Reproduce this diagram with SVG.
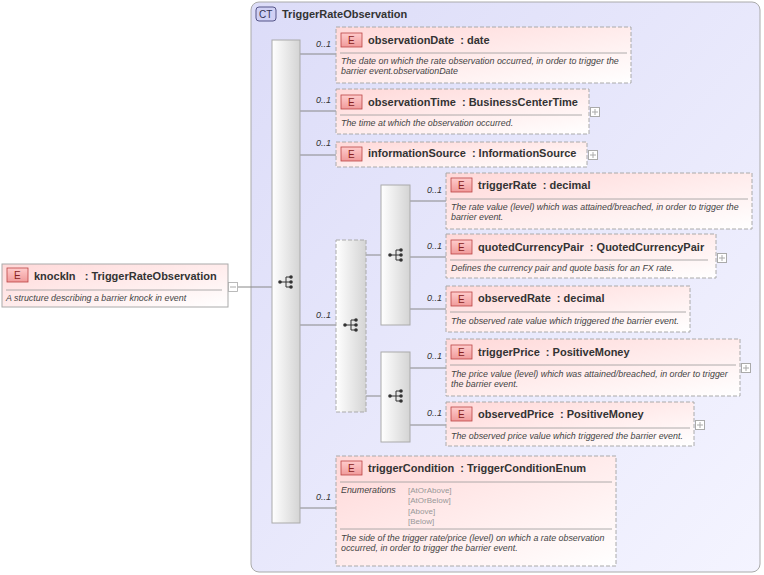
<svg xmlns="http://www.w3.org/2000/svg" width="764" height="575" viewBox="0 0 764 575">
<style>
text{font-family:"Liberation Sans",Arial,sans-serif;white-space:pre;}
.t{font-size:11px;font-weight:bold;fill:#333;}
.d{font-size:8.9px;font-style:italic;fill:#444;}
.m{font-size:9px;font-style:italic;fill:#333;}
.en{font-size:8px;fill:#999;}
.box{fill:url(#pk);stroke:#aaa;stroke-width:1;}
.dash{stroke-dasharray:4,2;}
.badge{fill:url(#bd);stroke:#b44;stroke-width:0.8;}
.bt{font-size:10px;fill:#822;}
.sep{stroke:#999;stroke-width:0.8;}
.bar{fill:url(#gr);stroke:#aaa;}
.c{stroke:#888;stroke-width:1;fill:none;}
.pl{fill:#fff;stroke:#aaa;stroke-width:0.8;}
</style>
<defs>
<linearGradient id="pk" x1="0" y1="0" x2="1" y2="1"><stop offset="0" stop-color="#ffd8d8"/><stop offset="1" stop-color="#fff"/></linearGradient>
<linearGradient id="bd" x1="0" y1="0" x2="0" y2="1"><stop offset="0" stop-color="#fcc"/><stop offset="1" stop-color="#f09a9a"/></linearGradient>
<linearGradient id="gr" x1="0" y1="0" x2="1" y2="0"><stop offset="0" stop-color="#fff"/><stop offset="1" stop-color="#d4d4d4"/></linearGradient>
<linearGradient id="ct" x1="0" y1="0" x2="1" y2="1"><stop offset="0" stop-color="#dcdcf8"/><stop offset="1" stop-color="#f4f4ff"/></linearGradient>
<symbol id="seq" viewBox="0 0 16 16" width="16" height="16">
<circle cx="2" cy="8" r="1.8" fill="#333"/><path d="M2 8H8M8 3V13M8 3H13M8 8H13M8 13H13" stroke="#333" stroke-width="1" fill="none"/>
<circle cx="13" cy="3" r="1.8" fill="#333"/><circle cx="13" cy="8" r="1.8" fill="#333"/><circle cx="13" cy="13" r="1.8" fill="#333"/>
</symbol>
<symbol id="plus" viewBox="0 0 10 10" width="10" height="10"><rect x="0.5" y="0.5" width="9" height="9" fill="#fff" stroke="#aaa"/><path d="M2 5H8M5 2V8" stroke="#aaa"/></symbol>
</defs>

<g id="ct-container">
<rect x="251" y="2" width="509" height="570" rx="8" fill="url(#ct)" stroke="#aaa"/>
<rect x="256" y="7" width="20" height="14" rx="3" fill="#d0d0f4" stroke="#558"/>
<text x="259" y="18" style="font-size:10px;fill:#335">CT</text>
<text x="282" y="18" class="t">TriggerRateObservation</text>
</g>

<g id="connectors">
<path class="c" d="M238 287H272"/>
<path class="c" d="M300 54H336M300 111H336M300 155H336M300 325H336M300 508H336"/>
<path class="c" d="M366 255H381M366 396H381"/>
<path class="c" d="M410 201H446M410 257H446M410 309H446M410 368H446M410 425H446"/>
</g>

<g id="labels">
<text class="m" x="316" y="47">0..1</text>
<text class="m" x="316" y="103">0..1</text>
<text class="m" x="316" y="146">0..1</text>
<text class="m" x="316" y="318">0..1</text>
<text class="m" x="316" y="500">0..1</text>
<text class="m" x="427" y="193">0..1</text>
<text class="m" x="427" y="249">0..1</text>
<text class="m" x="427" y="301">0..1</text>
<text class="m" x="427" y="359">0..1</text>
<text class="m" x="427" y="416">0..1</text>
</g>

<g id="knockIn">
<rect class="box" x="2" y="264" width="226" height="43"/>
<rect class="badge" x="7" y="268" width="21" height="14"/><text class="bt" x="14" y="279">E</text>
<text class="t" x="34" y="280">knockIn   : TriggerRateObservation</text>
<line class="sep" x1="6" y1="290" x2="222" y2="290"/>
<text class="d" x="6" y="301">A structure describing a barrier knock in event</text>
<rect class="pl" x="228.5" y="282.5" width="9" height="9"/><path d="M230 287H236" stroke="#aaa"/>
</g>

<g id="seq-main"><rect class="bar" x="272" y="40" width="28" height="483"/><use href="#seq" x="278" y="274"/></g>
<g id="choice"><rect class="bar dash" x="336" y="240" width="30" height="172"/><use href="#seq" x="343" y="317"/></g>
<g id="seq-rate"><rect class="bar" x="381" y="185" width="29" height="140"/><use href="#seq" x="388" y="247"/></g>
<g id="seq-price"><rect class="bar" x="381" y="352" width="29" height="90"/><use href="#seq" x="388" y="388"/></g>

<g id="observationDate">
<rect class="box dash" x="336" y="27" width="295" height="56"/>
<rect class="badge" x="341" y="33" width="21" height="14"/><text class="bt" x="348" y="44">E</text>
<text class="t" x="368" y="44">observationDate  : date</text>
<line class="sep" x1="340" y1="53" x2="627" y2="53"/>
<text class="d" x="341" y="64">The date on which the rate observation occurred, in order to trigger the</text>
<text class="d" x="341" y="74">barrier event.observationDate</text>
</g>

<g id="observationTime">
<rect class="box dash" x="336" y="89" width="253" height="45"/>
<rect class="badge" x="341" y="95" width="21" height="14"/><text class="bt" x="348" y="106">E</text>
<text class="t" x="368" y="106">observationTime  : BusinessCenterTime</text>
<line class="sep" x1="340" y1="115" x2="582" y2="115"/>
<text class="d" x="341" y="126">The time at which the observation occurred.</text>
<use href="#plus" x="590" y="107"/>
</g>

<g id="informationSource">
<rect class="box dash" x="336" y="142" width="251" height="25"/>
<rect class="badge" x="341" y="147" width="21" height="14"/><text class="bt" x="348" y="158">E</text>
<text class="t" x="368" y="157">informationSource  : InformationSource</text>
<use href="#plus" x="588" y="150"/>
</g>

<g id="triggerRate">
<rect class="box dash" x="446" y="173" width="306" height="56"/>
<rect class="badge" x="451" y="178" width="21" height="14"/><text class="bt" x="458" y="189">E</text>
<text class="t" x="478" y="189">triggerRate  : decimal</text>
<line class="sep" x1="450" y1="199" x2="748" y2="199"/>
<text class="d" x="451" y="210">The rate value (level) which was attained/breached, in order to trigger the</text>
<text class="d" x="451" y="220">barrier event.</text>
</g>

<g id="quotedCurrencyPair">
<rect class="box dash" x="446" y="234" width="270" height="44"/>
<rect class="badge" x="451" y="240" width="21" height="14"/><text class="bt" x="458" y="251">E</text>
<text class="t" x="478" y="251">quotedCurrencyPair  : QuotedCurrencyPair</text>
<line class="sep" x1="450" y1="260" x2="708" y2="260"/>
<text class="d" x="451" y="271">Defines the currency pair and quote basis for an FX rate.</text>
<use href="#plus" x="717" y="253"/>
</g>

<g id="observedRate">
<rect class="box dash" x="446" y="286" width="244" height="46"/>
<rect class="badge" x="451" y="292" width="21" height="14"/><text class="bt" x="458" y="303">E</text>
<text class="t" x="478" y="302">observedRate  : decimal</text>
<line class="sep" x1="450" y1="312" x2="686" y2="312"/>
<text class="d" x="451" y="324">The observed rate value which triggered the barrier event.</text>
</g>

<g id="triggerPrice">
<rect class="box dash" x="446" y="339" width="294" height="57"/>
<rect class="badge" x="451" y="345" width="21" height="14"/><text class="bt" x="458" y="356">E</text>
<text class="t" x="478" y="356">triggerPrice  : PositiveMoney</text>
<line class="sep" x1="450" y1="365" x2="736" y2="365"/>
<text class="d" x="451" y="377">The price value (level) which was attained/breached, in order to trigger</text>
<text class="d" x="451" y="387">the barrier event.</text>
<use href="#plus" x="741" y="363"/>
</g>

<g id="observedPrice">
<rect class="box dash" x="446" y="402" width="248" height="44"/>
<rect class="badge" x="451" y="407" width="21" height="14"/><text class="bt" x="458" y="418">E</text>
<text class="t" x="478" y="418">observedPrice  : PositiveMoney</text>
<line class="sep" x1="450" y1="428" x2="690" y2="428"/>
<text class="d" x="451" y="439">The observed price value which triggered the barrier event.</text>
<use href="#plus" x="695" y="420"/>
</g>

<g id="triggerCondition">
<rect class="box dash" x="336" y="456" width="280" height="110"/>
<rect class="badge" x="341" y="461" width="21" height="14"/><text class="bt" x="348" y="472">E</text>
<text class="t" x="368" y="472">triggerCondition  : TriggerConditionEnum</text>
<line class="sep" x1="340" y1="482" x2="612" y2="482"/>
<text class="d" x="341" y="493">Enumerations</text>
<text class="en" x="408" y="493">[AtOrAbove]</text>
<text class="en" x="408" y="503">[AtOrBelow]</text>
<text class="en" x="408" y="514">[Above]</text>
<text class="en" x="408" y="524">[Below]</text>
<line class="sep" x1="340" y1="529" x2="612" y2="529"/>
<text class="d" x="341" y="541">The side of the trigger rate/price (level) on which a rate observation</text>
<text class="d" x="341" y="551">occurred, in order to trigger the barrier event.</text>
</g>
</svg>
